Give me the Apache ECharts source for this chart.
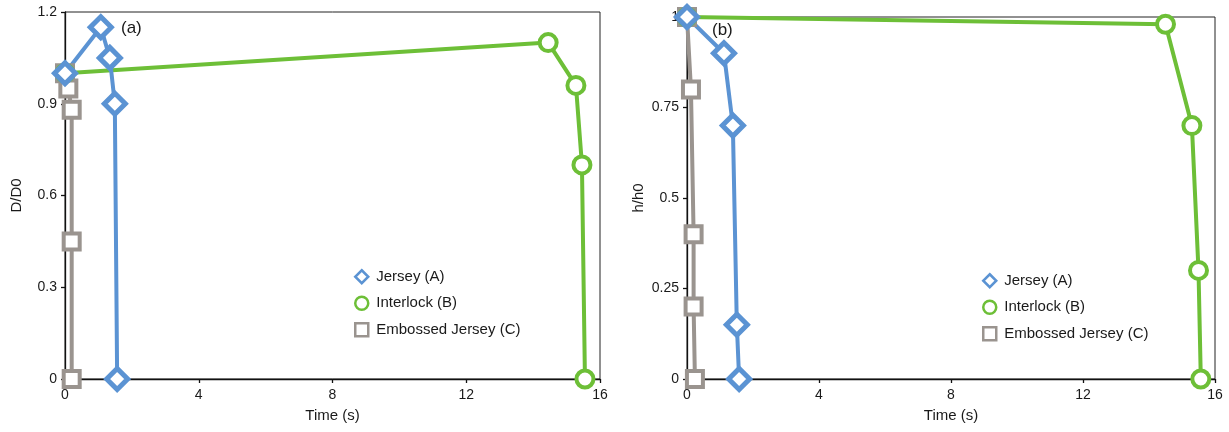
<!DOCTYPE html>
<html>
<head>
<meta charset="utf-8">
<script src="https://cdn.jsdelivr.net/npm/echarts@6/dist/echarts.min.js"></script>
<style>
  html, body { margin: 0; padding: 0; background: #fff; }
  #chart { width: 1229px; height: 432px; }
</style>
</head>
<body>
<div id="chart"></div>
<script>
// Panel (a): normalised diameter D/D0 against time
const timeJerseyA = [0, 1.07, 1.34, 1.49, 1.56];
const diamJerseyA = [1.0, 1.15, 1.05, 0.9, 0];
const timeInterlockA = [0, 14.45, 15.28, 15.46, 15.55];
const diamInterlockA = [1.0, 1.1, 0.96, 0.7, 0];
const timeEmbossedA = [0, 0.1, 0.2, 0.2, 0.2];
const diamEmbossedA = [1.0, 0.95, 0.88, 0.45, 0];

// Panel (b): normalised height h/h0 against time
const timeJerseyB = [0, 1.12, 1.39, 1.51, 1.58];
const heightJerseyB = [1.0, 0.9, 0.7, 0.15, 0];
const timeInterlockB = [0, 14.5, 15.3, 15.5, 15.57];
const heightInterlockB = [1.0, 0.98, 0.7, 0.3, 0];
const timeEmbossedB = [0, 0.12, 0.2, 0.2, 0.24];
const heightEmbossedB = [1.0, 0.8, 0.4, 0.2, 0];

const seriesNames = ['Jersey (A)', 'Interlock (B)', 'Embossed Jersey (C)'];
const xTicks = { min: 0, max: 16, interval: 4 };
const yTicksA = { min: 0, max: 1.2, interval: 0.3 };
const yTicksB = { min: 0, max: 1, interval: 0.25 };

const FONT = "'Liberation Sans', Arial, sans-serif";
const TEXT = '#1a1a1a';
const BLUE = '#5b93d3';
const GREEN = '#6dbf37';
const GRAY = '#9a948f';

const styles = {
  'Jersey (A)': { color: BLUE, symbol: 'diamond', size: 21, border: 5 },
  'Interlock (B)': { color: GREEN, symbol: 'circle', size: 17, border: 4 },
  'Embossed Jersey (C)': { color: GRAY, symbol: 'rect', size: 16, border: 4 }
};

function pairs(xs, ys) {
  return xs.map((x, i) => [x, ys[i]]);
}

function lineSeries(name, xs, ys, idx) {
  const s = styles[name];
  return {
    name: name,
    type: 'line',
    xAxisIndex: idx,
    yAxisIndex: idx,
    data: pairs(xs, ys),
    symbol: s.symbol,
    symbolSize: s.size,
    showAllSymbol: true,
    lineStyle: { color: s.color, width: 4 },
    itemStyle: { color: '#fff', borderColor: s.color, borderWidth: s.border },
    emphasis: { disabled: true },
    animation: false
  };
}

function xAxis(idx) {
  return {
    type: 'value',
    gridIndex: idx,
    min: xTicks.min, max: xTicks.max, interval: xTicks.interval,
    name: 'Time (s)',
    nameLocation: 'middle',
    nameGap: 29,
    nameTextStyle: { color: TEXT, fontSize: 15, fontFamily: FONT },
    axisLine: { show: true, lineStyle: { color: '#111', width: 1.3 } },
    axisTick: { show: true, length: 4, lineStyle: { color: '#111', width: 1.3 } },
    axisLabel: { color: TEXT, fontSize: 14, fontFamily: FONT, margin: 9 },
    splitLine: { show: false }
  };
}

function yAxis(idx, ticks, title) {
  return {
    type: 'value',
    gridIndex: idx,
    min: ticks.min, max: ticks.max, interval: ticks.interval,
    name: title,
    nameLocation: 'middle',
    nameGap: 41,
    nameRotate: 90,
    nameTextStyle: { color: TEXT, fontSize: 15, fontFamily: FONT },
    axisLine: { show: true, lineStyle: { color: '#111', width: 1.3 } },
    axisTick: { show: true, length: 4, lineStyle: { color: '#111', width: 1.3 } },
    axisLabel: { color: TEXT, fontSize: 14, fontFamily: FONT, margin: 8 },
    splitLine: { show: false }
  };
}

function legend(idx, left, top) {
  return {
    orient: 'vertical',
    left: left,
    top: top,
    itemGap: 11,
    itemWidth: 13,
    itemHeight: 13,
    textStyle: { color: TEXT, fontSize: 15, fontFamily: FONT, padding: [0, 0, 0, 3] },
    selectedMode: false,
    data: seriesNames.map(n => ({
      name: n,
      icon: styles[n].symbol,
      itemStyle: { color: '#fff', borderColor: styles[n].color, borderWidth: 2.5 }
    }))
  };
}

const chart = echarts.init(document.getElementById('chart'), null, { renderer: 'canvas' });

chart.setOption({
  backgroundColor: '#fff',
  animation: false,
  grid: [
    { left: 65, right: 629, top: 12, bottom: 53, show: true, borderColor: '#222', borderWidth: 1, backgroundColor: 'transparent' },
    { left: 687, right: 14, top: 17, bottom: 53, show: true, borderColor: '#222', borderWidth: 1, backgroundColor: 'transparent' }
  ],
  xAxis: [xAxis(0), xAxis(1)],
  yAxis: [yAxis(0, yTicksA, 'D/D0'), yAxis(1, yTicksB, 'h/h0')],
  legend: [legend(0, 349, 264), legend(1, 977, 268)],
  series: [
    lineSeries('Embossed Jersey (C)', timeEmbossedA, diamEmbossedA, 0),
    lineSeries('Interlock (B)', timeInterlockA, diamInterlockA, 0),
    lineSeries('Jersey (A)', timeJerseyA, diamJerseyA, 0),
    lineSeries('Embossed Jersey (C)', timeEmbossedB, heightEmbossedB, 1),
    lineSeries('Interlock (B)', timeInterlockB, heightInterlockB, 1),
    lineSeries('Jersey (A)', timeJerseyB, heightJerseyB, 1)
  ],
  graphic: [
    { type: 'text', left: 121, top: 20, style: { text: '(a)', fill: TEXT, fontSize: 17, fontFamily: FONT } },
    { type: 'text', left: 712, top: 22, style: { text: '(b)', fill: TEXT, fontSize: 17, fontFamily: FONT } }
  ]
});
</script>
</body>
</html>
